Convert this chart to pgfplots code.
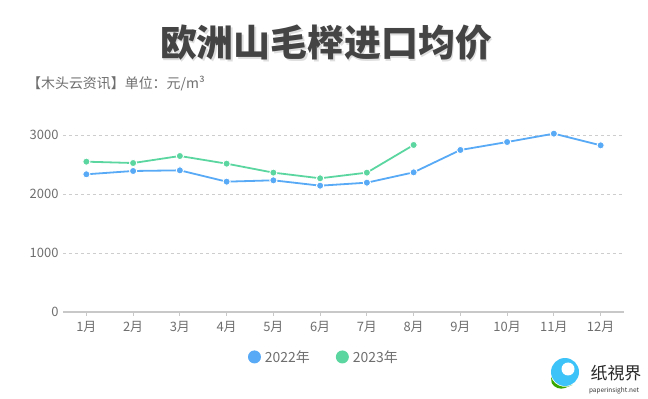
\documentclass[border=0pt]{standalone}
\usepackage{fontspec}
\setmainfont{Noto Sans CJK SC}
\usepackage{pgfplots}
\pgfplotsset{compat=1.18}
\definecolor{c22}{RGB}{88,169,246}
\definecolor{c23}{RGB}{92,214,161}
\definecolor{txt}{RGB}{110,110,110}
\definecolor{ttl}{RGB}{68,68,68}
\definecolor{gridc}{RGB}{205,205,205}
\definecolor{axc}{RGB}{200,200,200}
\begin{document}
\begin{tikzpicture}
\path[use as bounding box] (0bp,0bp) rectangle (648bp,399bp);
% title with soft shadow
\node[text=black, opacity=0.13, font=\fontsize{37}{38}\selectfont\bfseries] at (327.5bp,354bp) {欧洲山毛榉进口均价};
\node[text=ttl, font=\fontsize{37}{38}\selectfont\bfseries] at (326bp,356bp) {欧洲山毛榉进口均价};
\node[anchor=west, text=txt, font=\fontsize{14}{15}\selectfont, inner sep=0] at (27bp,315bp) {【木头云资讯】单位：元/m³};
\begin{axis}[
  at={(63bp,87bp)}, anchor=south west,
  scale only axis, width=561bp, height=188.8bp,
  xmin=0.5, xmax=12.5, ymin=0, ymax=3200,
  xtick={1,...,12},
  xticklabels={1月,2月,3月,4月,5月,6月,7月,8月,9月,10月,11月,12月},
  ytick={0,1000,2000,3000},
  ymajorgrids, grid style={gridc, dashed, line width=0.8bp},
  axis x line*=bottom, axis y line*=left,
  y axis line style={draw=none},
  x axis line style={axc, line width=1.2bp, -},
  ytick style={draw=none},
  xtick style={axc, line width=0.8bp},
  xtick align=outside, major tick length=4bp,
  tick label style={text=txt, font=\fontsize{13}{14}\selectfont},
  /pgf/number format/assume math mode=true,
  /pgf/number format/1000 sep={},
  xticklabel style={yshift=-2bp},
  yticklabel style={xshift=-1bp},
  clip=false,
  legend columns=2,
  legend style={draw=none, fill=none, at={(0.465,-0.238)}, anchor=center,
    font=\fontsize{14}{15}\selectfont, text=txt,
    /tikz/every odd column/.append style={column sep=2bp},
    /tikz/every even column/.append style={column sep=24bp}},
  legend image code/.code={\fill[#1, draw=none] (0.4em,0) circle (6.5bp);},
]
\addplot[color=c22, line width=1.8bp, mark=*, mark size=3.6bp,
  mark options={draw=white, fill=c22, line width=0.9bp}]
  coordinates {(1,2334) (2,2390) (3,2401) (4,2209) (5,2232) (6,2141)
               (7,2192) (8,2367) (9,2746) (10,2881) (11,3023) (12,2825)};
\addlegendentry{2022年}
\addplot[color=c23, line width=1.8bp, mark=*, mark size=3.6bp,
  mark options={draw=white, fill=c23, line width=0.9bp}]
  coordinates {(1,2548) (2,2525) (3,2644) (4,2514) (5,2362) (6,2266)
               (7,2362) (8,2831)};
\addlegendentry{2023年}
\end{axis}
% logo
\fill[c22!70!cyan] (565bp,27bp) circle (14bp);
\fill[white] (568bp,30bp) circle (6.5bp);
\fill[green!50!black!70!lime] (551bp,22bp) arc (200:300:15bp) -- (565bp,11bp) arc (290:210:11bp) -- cycle;
\node[text=black!85, font=\fontsize{17}{18}\selectfont] at (616bp,26bp) {纸視界};
\node[text=black!80, font=\fontsize{6.5}{7}\selectfont] at (614bp,8bp) {paperinsight.net};
\end{tikzpicture}
\end{document}
